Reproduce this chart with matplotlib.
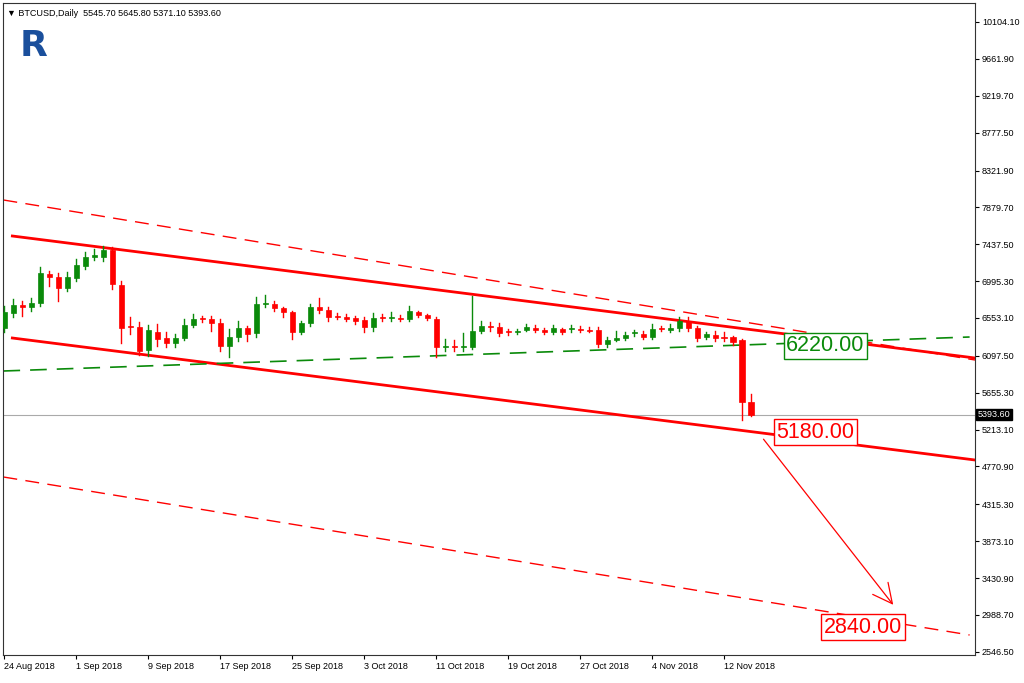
import matplotlib
matplotlib.use("Agg")
import matplotlib.pyplot as plt
from matplotlib.patches import Rectangle

opens = [6432,6612,6708,6684,6732,7080,7044,6912,7032,7176,7284,7284,7368,6948,6456,6444,6168,6384,6312,6252,
         6312,6468,6540,6540,6492,6216,6324,6432,6372,6720,6720,6672,6624,6384,6492,6684,6648,6576,6564,6552,
         6528,6444,6552,6546,6552,6540,6624,6588,6540,6204,6210,6204,6204,6396,6456,6444,6384,6378,6408,6432,
         6408,6384,6420,6414,6420,6408,6408,6240,6288,6312,6366,6360,6324,6420,6408,6432,6516,6432,6324,6348,
         6324,6324,6288,5545.7]
closes = [6624,6708,6684,6732,7092,7044,6912,7044,7188,7284,7308,7368,6960,6432,6444,6156,6408,6300,6252,6312,
          6468,6540,6534,6492,6216,6324,6432,6360,6720,6732,6672,6624,6384,6492,6684,6648,6564,6564,6540,6516,
          6444,6552,6546,6552,6540,6636,6588,6552,6204,6210,6204,6216,6396,6456,6444,6372,6378,6390,6444,6408,
          6384,6432,6384,6420,6408,6396,6240,6288,6312,6348,6372,6324,6420,6414,6432,6516,6432,6312,6360,6312,
          6312,6264,5544,5393.6]
highs = [6700,6780,6760,6790,7160,7110,7090,7100,7260,7340,7380,7420,7400,7000,6560,6500,6470,6480,6380,6360,
         6540,6600,6580,6580,6540,6420,6520,6450,6800,6830,6760,6680,6640,6520,6720,6790,6680,6610,6600,6580,
         6560,6610,6600,6620,6590,6690,6640,6600,6560,6300,6290,6370,6820,6520,6500,6490,6420,6420,6480,6470,
         6430,6470,6430,6470,6460,6440,6440,6320,6400,6380,6410,6400,6480,6460,6480,6560,6560,6460,6380,6390,
         6380,6340,6300,5645.8]
lows = [6380,6560,6580,6640,6700,6940,6760,6880,6990,7140,7250,7240,6900,6250,6360,6110,6100,6220,6200,6200,
        6290,6440,6500,6400,6150,6080,6280,6280,6320,6680,6640,6560,6300,6360,6450,6610,6520,6540,6510,6480,
        6380,6400,6520,6510,6510,6520,6560,6530,6080,6150,6160,6160,6180,6370,6400,6340,6350,6360,6390,6380,
        6360,6360,6360,6380,6380,6380,6200,6200,6270,6290,6330,6300,6300,6390,6380,6400,6400,6280,6300,6280,
        6280,6230,5328,5371.1]

date_labels = ["24 Aug 2018","1 Sep 2018","9 Sep 2018","17 Sep 2018","25 Sep 2018","3 Oct 2018",
               "11 Oct 2018","19 Oct 2018","27 Oct 2018","4 Nov 2018","12 Nov 2018"]
date_idx = [0,8,16,24,32,40,48,56,64,72,80]
yticks = [10104.10,9661.90,9219.70,8777.50,8321.90,7879.70,7437.50,6995.30,6553.10,6097.50,
          5655.30,5213.10,4770.90,4315.30,3873.10,3430.90,2988.70,2546.50]

upper_solid = ([0.89,107.9],[7536,6072])
lower_solid = ([0.89,107.9],[6312,4848])
upper_dash = ([-0.1,107.9],[7968,6048])
lower_dash = ([-0.1,107.3],[4644,2748])
green_dash = ([-0.1,107.3],[5916,6324])
arrow_pts = ([84.2,99.0],[5124,3084])
last_price = 5393.6

fig = plt.figure(figsize=(10.24,6.83),dpi=100)
ax = fig.add_axes([3/1024, 28/683, 972/1024, 652/683])
ax.set_xlim(-0.15,107.9)
ax.set_ylim(2508,10332)

RED='#ff0000'; GREEN='#0a8a0a'
for i,(o,h,l,c) in enumerate(zip(opens,highs,lows,closes)):
    col = GREEN if c>=o else RED
    ax.plot([i,i],[l,h],color=col,lw=1,zorder=3)
    b0=min(o,c); bh=max(abs(c-o),12)
    ax.add_patch(Rectangle((i-0.28,b0),0.56,bh,facecolor=col,edgecolor=col,lw=0.5,zorder=4))

ax.axhline(last_price,color='#aaaaaa',lw=0.8,zorder=1)
ax.plot(*upper_solid,color=RED,lw=2,zorder=2)
ax.plot(*lower_solid,color=RED,lw=2,zorder=2)
ax.plot(*upper_dash,color=RED,lw=1,dashes=(10,6),zorder=2)
ax.plot(*lower_dash,color=RED,lw=1,dashes=(10,6),zorder=2)
ax.plot(*green_dash,color=GREEN,lw=1.2,dashes=(10,6),zorder=2)
ax.annotate('',xy=(arrow_pts[0][1],arrow_pts[1][1]),xytext=(arrow_pts[0][0],arrow_pts[1][0]),
            arrowprops=dict(arrowstyle='->,head_length=1.4,head_width=0.7',color=RED,lw=0.9))

def box(x,y,t,col):
    ax.text(x,y,t,fontsize=15.5,color=col,ha='left',va='center',family='Liberation Sans',zorder=6,
            bbox=dict(boxstyle='square,pad=0.12',fc='white',ec=col,lw=1))
box(86.9,6220,"6220.00",GREEN)
box(85.8,5180,"5180.00",RED)
box(91.1,2840,"2840.00",RED)

ax.yaxis.tick_right()
ax.set_yticks(yticks)
ax.set_yticklabels([f"{v:.2f}" for v in yticks],fontsize=6.5,family='Liberation Sans')
ax.set_xticks(date_idx)
ax.set_xticklabels(date_labels,fontsize=6.5,ha='left',family='Liberation Sans')
ax.tick_params(axis='both',length=3,width=0.8,pad=2)
for s in ax.spines.values():
    s.set_color('#333333'); s.set_linewidth(0.8)

ax.text(108.2,last_price,f"{last_price:.2f}",transform=ax.transData,fontsize=6.5,color='white',
        va='center',ha='left',family='Liberation Sans',clip_on=False,
        bbox=dict(boxstyle='square,pad=0.15',fc='black',ec='black'))

fig.text(7/1024,1-14/683,"\u25bc BTCUSD,Daily  5545.70 5645.80 5371.10 5393.60",fontsize=6.5,
         va='center',family=['Liberation Sans','DejaVu Sans'])
fig.text(20/1024,1-46/683,"R",fontsize=26,fontweight='bold',color='#1a4f9c',va='center',family='DejaVu Sans')
fig.savefig('out.png',dpi=100)
